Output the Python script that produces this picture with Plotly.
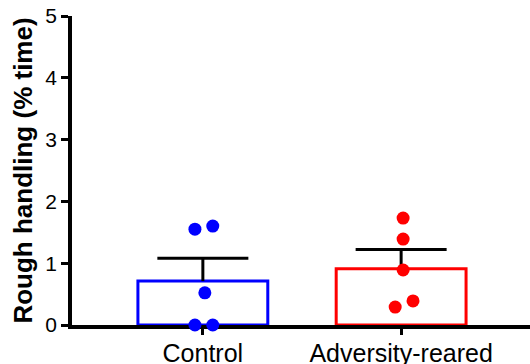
import plotly.graph_objects as go

categories = ["Control", "Adversity-reared"]
control_values = [1.55, 1.60, 0.52, 0.0, 0.0]
adversity_values = [1.73, 1.39, 0.89, 0.29, 0.39]
means = [0.71, 0.91]
sems = [0.37, 0.31]
y_ticks = [0, 1, 2, 3, 4, 5]

colors = ["#0000FF", "#FF0000"]
jitter_control = [-0.04, 0.05, 0.01, -0.04, 0.05]
jitter_adversity = [0.01, 0.01, 0.01, -0.03, 0.06]

xpos = list(range(len(categories)))
upper = [m + s for m, s in zip(means, sems)]

fig = go.Figure()
fig.add_trace(go.Bar(
    x=xpos, y=means, width=0.655,
    marker=dict(color="white", line=dict(color=colors, width=3)),
    showlegend=False, hoverinfo="skip",
))
# upward-only error bars (stem + cap)
stem_x, stem_y = [], []
for i in xpos:
    stem_x += [i, i, None]
    stem_y += [means[i], upper[i], None]
fig.add_trace(go.Scatter(
    x=stem_x, y=stem_y, mode="lines",
    line=dict(color="black", width=3), showlegend=False, hoverinfo="skip",
))
fig.add_trace(go.Scatter(
    x=xpos, y=upper, mode="markers",
    marker=dict(symbol="line-ew", size=65, line=dict(color="black", width=3)),
    showlegend=False, hoverinfo="skip",
))
for i, (vals, jit) in enumerate([(control_values, jitter_control), (adversity_values, jitter_adversity)]):
    fig.add_trace(go.Scatter(
        x=[i + j for j in jit], y=vals, mode="markers",
        marker=dict(color=colors[i], size=13),
        cliponaxis=False, showlegend=False,
    ))

font_family = "Liberation Sans, Arial, sans-serif"
fig.update_layout(
    width=530, height=364,
    margin=dict(l=72, r=0, t=16, b=39, autoexpand=False),
    plot_bgcolor="white", paper_bgcolor="white",
    font=dict(family=font_family, color="black", size=20),
    xaxis=dict(
        range=[-0.66, 1.65], tickvals=xpos, ticktext=categories,
        showline=True, linecolor="black", linewidth=3.5,
        ticks="outside", ticklen=6, tickwidth=3, tickcolor="black",
        showgrid=False, zeroline=False, layer="below traces",
        tickfont=dict(size=25), automargin=False, ticklabelstandoff=-3,
    ),
    yaxis=dict(
        range=[0, 5], tickvals=y_ticks,
        showline=True, linecolor="black", linewidth=3.5,
        ticks="outside", ticklen=7, tickwidth=3, tickcolor="black",
        showgrid=False, zeroline=False, layer="below traces",
        tickfont=dict(size=21), automargin=False,
        title=dict(text="<b>Rough handling (% time)</b>", font=dict(size=26), standoff=6),
    ),
)
fig.write_html(
    "out.html",
    config={"displayModeBar": False},
    post_script="document.body.style.margin='0';document.body.style.overflow='hidden';",
)
